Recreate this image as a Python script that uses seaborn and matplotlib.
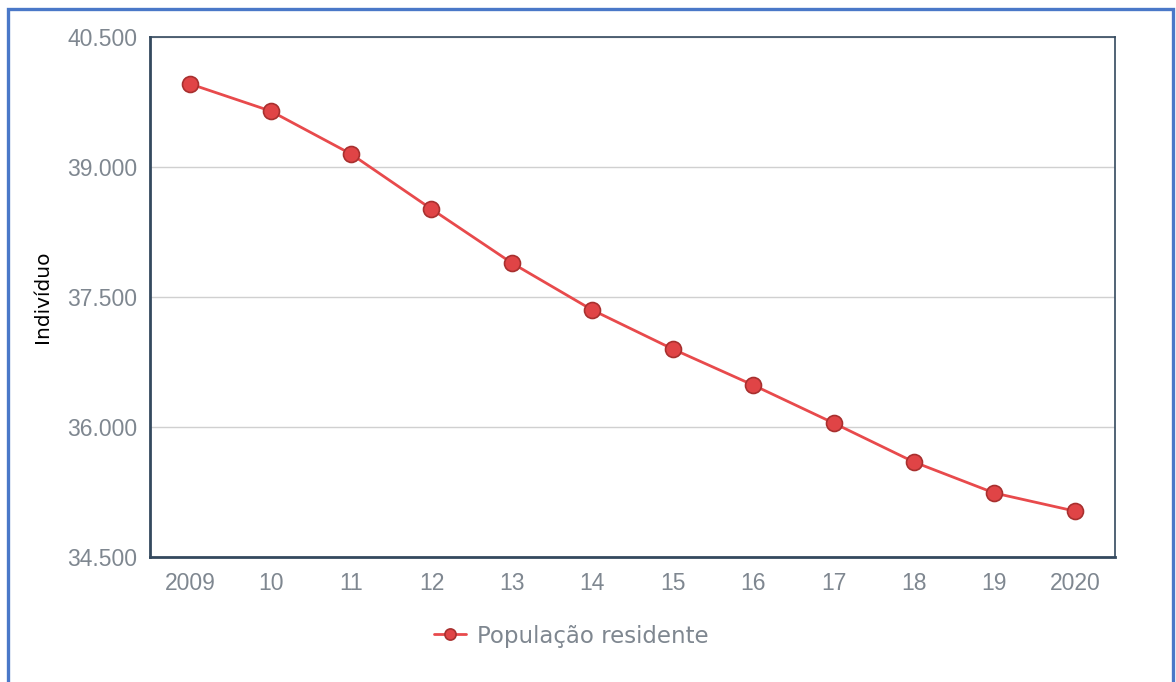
import pandas as pd
import seaborn as sns
import matplotlib.pyplot as plt
from matplotlib.patches import Rectangle
from matplotlib.ticker import FuncFormatter

years = [2009, 2010, 2011, 2012, 2013, 2014, 2015, 2016, 2017, 2018, 2019, 2020]
year_labels = ['2009', '10', '11', '12', '13', '14', '15', '16', '17', '18', '19', '2020']
population = [39958, 39646, 39150, 38515, 37892, 37350, 36900, 36484, 36046, 35596, 35238, 35030]
y_ticks = [34500, 36000, 37500, 39000, 40500]

df = pd.DataFrame({'Ano': years, 'População residente': population})

sns.set_style('white')
plt.rcParams['font.family'] = ['Liberation Sans', 'DejaVu Sans']

fig = plt.figure(figsize=(11.76, 6.82), dpi=100)
ax = fig.add_axes([150 / 1176, 1 - 557 / 682, 965 / 1176, 520 / 682])

sns.lineplot(data=df, x='Ano', y='População residente', ax=ax, color='#e84a4c',
             linewidth=2, marker='o', markersize=11.5, markerfacecolor='#e04446',
             markeredgecolor='#a8302f', markeredgewidth=1.2, label='População residente',
             legend=False)

ax.set_xlim(years[0] - 0.5, years[-1] + 0.5)
ax.set_ylim(y_ticks[0], y_ticks[-1])
ax.set_xticks(years)
ax.set_xticklabels(year_labels)
ax.set_yticks(y_ticks)
ax.yaxis.set_major_formatter(FuncFormatter(lambda v, p: f"{v:,.0f}".replace(',', '.')))
ax.tick_params(axis='both', length=0, labelsize=16.5, labelcolor='#7f8790')
ax.tick_params(axis='y', pad=9)
ax.tick_params(axis='x', pad=11)
ax.grid(axis='y', color='#d0d0d0', linewidth=1)
ax.set_axisbelow(True)

for side in ['left', 'bottom', 'top', 'right']:
    ax.spines[side].set_visible(True)
    ax.spines[side].set_color('#34495e')
ax.spines['left'].set_linewidth(2)
ax.spines['bottom'].set_linewidth(2)
ax.spines['top'].set_linewidth(1.2)
ax.spines['right'].set_linewidth(1.2)

ax.set_xlabel('')
ax.set_ylabel('Indivíduo', fontsize=14.5, color='black', family='DejaVu Sans')
ax.yaxis.set_label_coords((52 - 150) / 965, 0.5)

handles, labels = ax.get_legend_handles_labels()
fig.legend(handles, labels, loc='center', bbox_to_anchor=(0.486, 1 - 636 / 682),
           frameon=False, prop={'family': 'DejaVu Sans', 'size': 16.5},
           labelcolor='#7f8790', handlelength=1.4, handletextpad=0.5, markerscale=0.7)

fig.patches.append(Rectangle((8 / 1176, -0.05), 1165 / 1176, 1 - 9 / 682 + 0.05,
                             transform=fig.transFigure, fill=False,
                             edgecolor='#4a78c8', linewidth=2.4))

plt.savefig('out.png', dpi=100)
